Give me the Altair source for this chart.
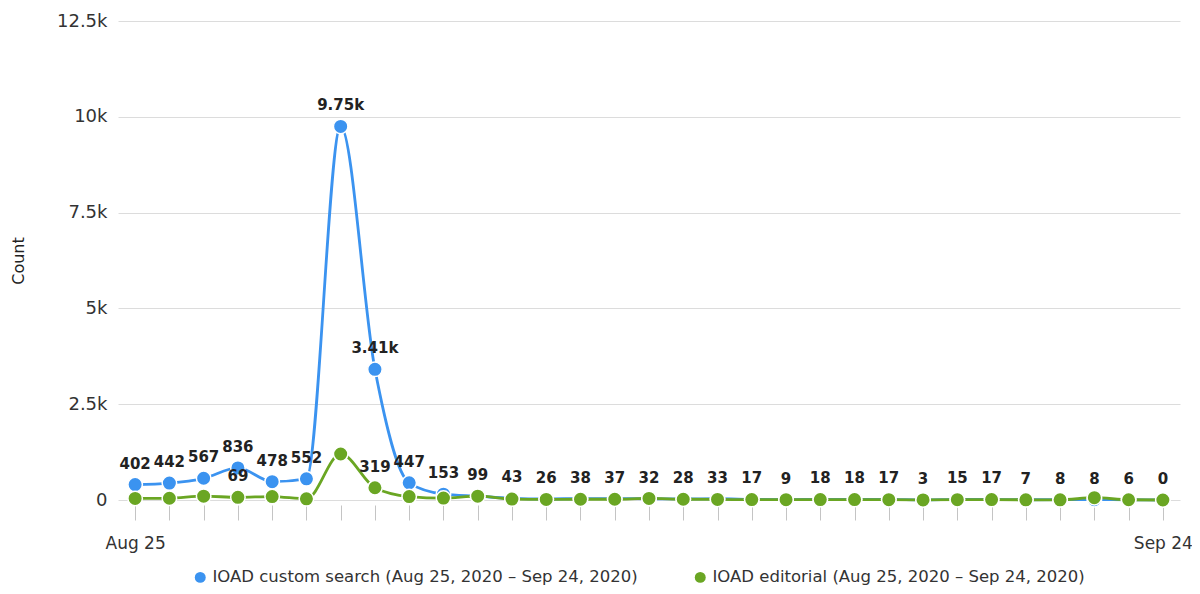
import altair as alt
import pandas as pd

days = [d.strftime("%b %-d") for d in pd.date_range("2020-08-25", "2020-09-24")]
blue_name = "IOAD custom search (Aug 25, 2020 – Sep 24, 2020)"
green_name = "IOAD editorial (Aug 25, 2020 – Sep 24, 2020)"
series_names = [blue_name, green_name]
blue_values = [402, 442, 567, 836, 478, 552, 9750, 3410, 447, 153, 99, 43, 26, 38, 37, 32,
               28, 33, 17, 9, 18, 18, 17, 3, 15, 17, 7, 8, 8, 6, 0]
green_values = [40, 45, 100, 69, 90, 30, 1200, 319, 90, 50, 99, 25, 15, 20, 20, 40,
                20, 15, 10, 9, 10, 10, 8, 3, 8, 10, 5, 5, 60, 6, 0]
green_label_idx = [3, 7]
colors = ["#3b93f0", "#6aa623"]
FONT = "DejaVu Sans"


def fmt(v):
    if v >= 1000:
        return f"{v/1000:.2f}".rstrip("0").rstrip(".") + "k"
    return str(v)


rows = []
for i, d in enumerate(days):
    rows.append({"day": d, "series": blue_name, "value": blue_values[i]})
for i, d in enumerate(days):
    rows.append({"day": d, "series": green_name, "value": green_values[i]})
df = pd.DataFrame(rows)

lab = []
for i, d in enumerate(days):
    lab.append({"day": d, "value": blue_values[i], "text": fmt(blue_values[i])})
for i in green_label_idx:
    lab.append({"day": days[i], "value": green_values[i], "text": fmt(green_values[i])})
ldf = pd.DataFrame(lab)

x = alt.X("day:O", sort=days, title=None,
          scale=alt.Scale(type="point", padding=0.5),
          axis=alt.Axis(labelExpr="datum.label == 'Aug 25' || datum.label == 'Sep 24' ? datum.label : ''",
                        labelAngle=0, domain=False, ticks=True, tickColor="#c4c4c4",
                        tickSize=15, offset=5, labelPadding=15, labelFontSize=17,
                        labelColor="#333"))
y = alt.Y("value:Q", title="Count",
          scale=alt.Scale(domain=[0, 12500], nice=False),
          axis=alt.Axis(values=[0, 2500, 5000, 7500, 10000, 12500],
                        labelExpr="datum.value == 0 ? '0' : format(datum.value/1000, '~g') + 'k'",
                        domain=False, ticks=False, labelPadding=11, labelFontSize=18,
                        labelColor="#333", titleFontSize=16, titleFontWeight="normal",
                        titleColor="#222", titlePadding=30, gridColor="#dcdcdc"))
legend = alt.Legend(orient="none", direction="horizontal", legendX=74, legendY=548,
                    symbolType="circle", symbolSize=120, labelFontSize=16.5, labelLimit=800,
                    labelColor="#333", columnPadding=54, symbolStrokeWidth=0, labelOffset=4)
color = alt.Color("series:N", scale=alt.Scale(domain=series_names, range=colors),
                  sort=series_names, title=None, legend=legend)

lines = alt.Chart(df).mark_line(interpolate="monotone", strokeWidth=2.8).encode(
    x=x, y=y, color=color)
points = alt.Chart(df).mark_point(filled=True, size=210, stroke="white", strokeWidth=1.5, opacity=1).encode(
    x=x, y=y, color=color)
texts = alt.Chart(ldf).mark_text(dy=-21, fontSize=15, fontWeight="bold", color="#222", font=FONT).encode(
    x=x, y=y, text="text:N")

chart = alt.layer(lines, points, texts).properties(
    width=1062, height=479,
    autosize=alt.AutoSizeParams(type="none"),
    padding={"left": 110, "top": 13, "right": 12, "bottom": 86},
).configure_view(stroke=None).configure_axis(
    labelFont=FONT, titleFont=FONT
).configure_legend(labelFont=FONT)

chart.save("out.html", embed_options={"renderer": "svg", "actions": False})
